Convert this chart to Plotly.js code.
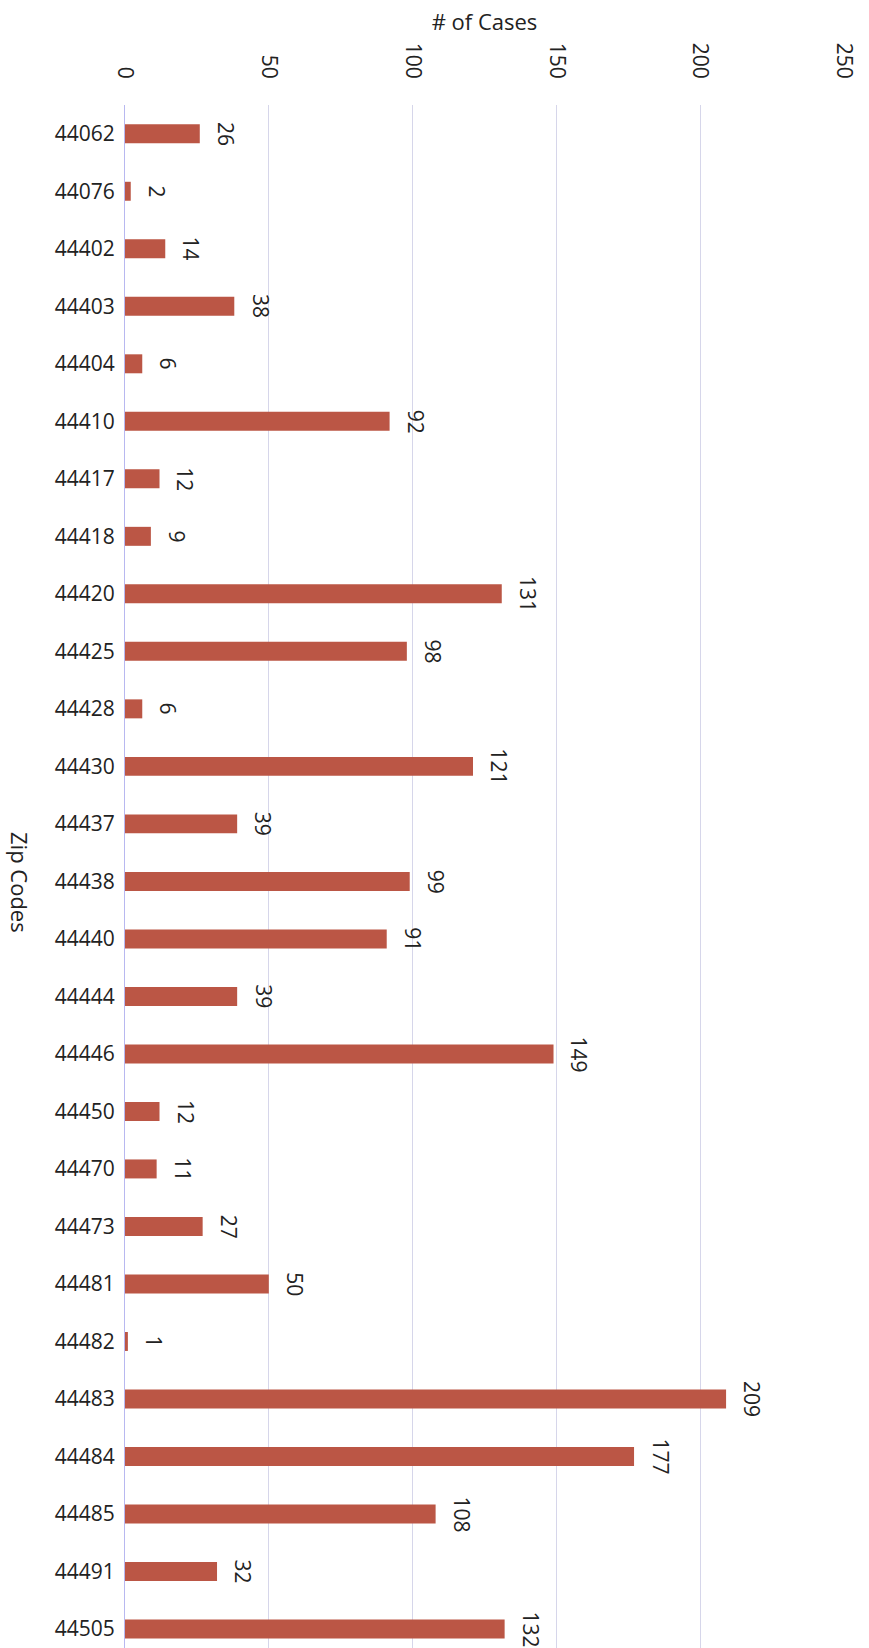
<!DOCTYPE html>
<html>
<head>
<meta charset="utf-8">
<script src="https://cdn.plot.ly/plotly-3.0.1.min.js"></script>
<style>
html,body{margin:0;padding:0;background:#fff;}
#chart{width:869px;height:1648px;}
</style>
</head>
<body>
<div id="chart"></div>
<script>
var zipCodes = ["44062","44076","44402","44403","44404","44410","44417","44418","44420","44425","44428","44430","44437","44438","44440","44444","44446","44450","44470","44473","44481","44482","44483","44484","44485","44491","44505"];
var cases = [26,2,14,38,6,92,12,9,131,98,6,121,39,99,91,39,149,12,11,27,50,1,209,177,108,32,132];
var xTickVals = [0,50,100,150,200,250];

var FONT = "Open Sans, Liberation Sans, sans-serif";
var barColor = "#bb5645";

var trace = {
  type: "bar",
  orientation: "h",
  x: cases,
  y: zipCodes,
  marker: {color: barColor, line: {width: 0}},
  hoverinfo: "none"
};

var annotations = zipCodes.map(function(z, i){
  return {
    x: cases[i], y: i, xref: "x", yref: "y",
    text: String(cases[i]),
    showarrow: false,
    textangle: 90,
    xanchor: "center", yanchor: "middle",
    xshift: 26,
    font: {family: FONT, size: 21, color: "#222"}
  };
});
annotations.push({
  xref: "paper", yref: "paper",
  x: (20 - 125) / 719, y: (1648 - 882) / 1543,
  text: "Zip Codes", showarrow: false, textangle: 90,
  xanchor: "center", yanchor: "middle",
  font: {family: FONT, size: 22, color: "#222"}
});

var layout = {
  width: 869, height: 1648,
  margin: {l: 125, r: 25, t: 105, b: 0, pad: 0},
  paper_bgcolor: "#fff", plot_bgcolor: "#fff",
  showlegend: false,
  bargap: 0.67,
  font: {family: FONT, color: "#222"},
  xaxis: {
    side: "top",
    range: [0, 250],
    tickvals: xTickVals,
    ticktext: xTickVals.map(String),
    tickangle: 90,
    tickfont: {family: FONT, size: 21, color: "#222"},
    ticks: "",
    ticklabelstandoff: 22,
    showgrid: true, gridcolor: "#d6d6ea", gridwidth: 1,
    zeroline: false,
    showline: false,
    title: {text: "# of Cases", font: {family: FONT, size: 22, color: "#222"}, standoff: 6},
    fixedrange: true
  },
  yaxis: {
    type: "category",
    range: [26.33, -0.5],
    tickfont: {family: FONT, size: 21, color: "#222"},
    ticks: "",
    ticklabelstandoff: 5,
    showgrid: false,
    showline: true, linecolor: "#b8b8f0", linewidth: 1,
    zeroline: false,
    automargin: false,
    fixedrange: true
  },
  annotations: annotations
};

Plotly.newPlot("chart", [trace], layout, {displayModeBar: false, staticPlot: true});
</script>
</body>
</html>
